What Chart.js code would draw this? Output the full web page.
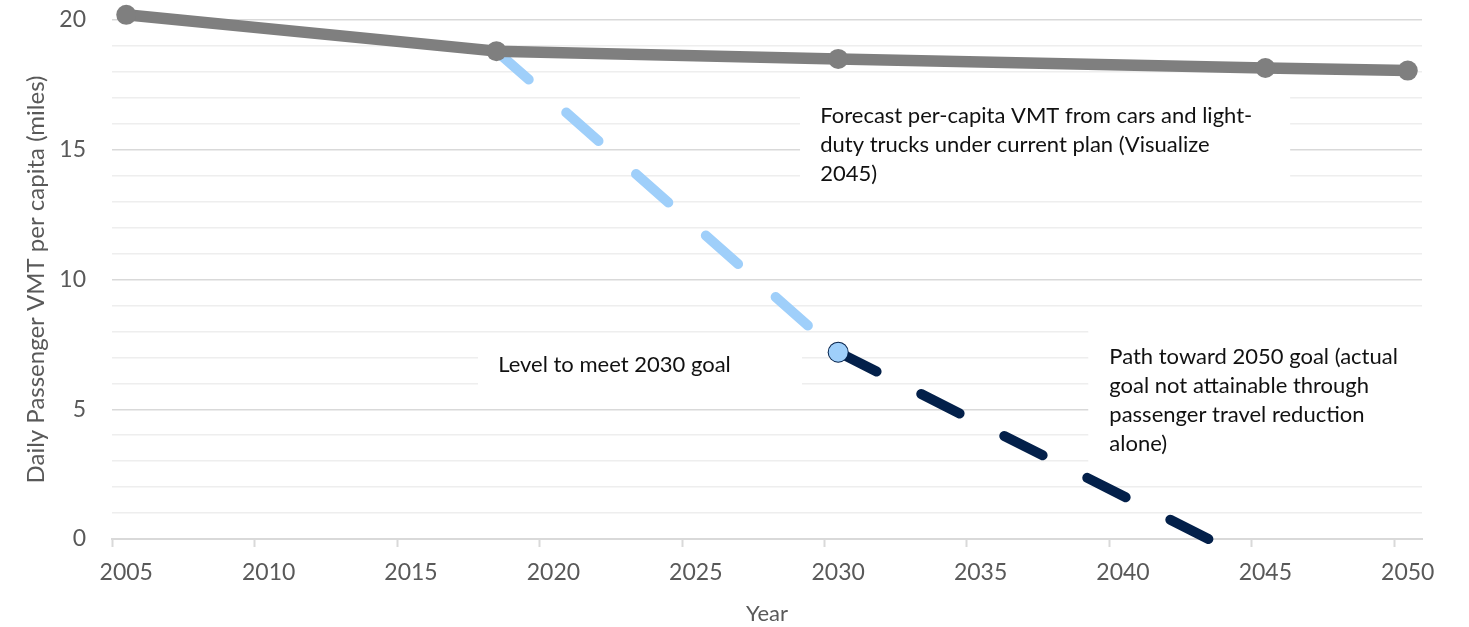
<!DOCTYPE html>
<html>
<head>
<meta charset="utf-8">
<title>Daily passenger VMT per capita</title>
<script src="https://cdn.jsdelivr.net/npm/chart.js@4.4.1/dist/chart.umd.min.js"></script>
<style>
  html, body { margin: 0; padding: 0; background: #ffffff; }
  #wrap { width: 1469px; height: 627px; }
</style>
</head>
<body>
<div id="wrap"><canvas id="vmt" width="1469" height="627"></canvas></div>
<script>
// Forecast per-capita VMT (cars and light-duty trucks, current plan)
const forecastYears = [2005, 2018, 2030, 2045, 2050];
const forecastVMT   = [20.2, 18.8, 18.5, 18.15, 18.05];

// Level needed to meet the 2030 goal
const goal2030Years = [2018, 2030];
const goal2030VMT   = [18.8, 7.2];

// Path toward the 2050 goal
const path2050Years = [2030, 2043];
const path2050VMT   = [7.2, 0];

// Axis ticks
const yearTicks = [2005, 2010, 2015, 2020, 2025, 2030, 2035, 2040, 2045, 2050];
const vmtTicks  = [0, 5, 10, 15, 20];

const FONT = 'Lato, "Open Sans", sans-serif';
const pairs = (xs, ys) => xs.map((x, i) => ({ x: x, y: ys[i] }));

// Callout boxes, placed in data coordinates
const callouts = [
  { x0: 2028.66, x1: 2045.87, y0: 17.49, y1: 13.25, tx: 2029.37, ty: 16.3,
    lines: ['Forecast per-capita VMT from cars and light-',
            'duty trucks under current plan (Visualize',
            '2045)'] },
  { x0: 2017.35, x1: 2028.73, y0: 7.66, y1: 5.54, tx: 2018.06, ty: 6.7,
    lines: ['Level to meet 2030 goal'] },
  { x0: 2038.78, x1: 2051.0, y0: 8.36, y1: 2.65, tx: 2039.52, ty: 7.0,
    lines: ['Path toward 2050 goal (actual',
            'goal not attainable through',
            'passenger travel reduction',
            'alone)'] }
];

const calloutPlugin = {
  id: 'callouts',
  beforeDatasetsDraw(chart) {
    const { ctx, scales: { x, y } } = chart;
    ctx.save();
    callouts.forEach(c => {
      const l = x.getPixelForValue(c.x0), r = x.getPixelForValue(c.x1);
      const t = y.getPixelForValue(c.y0), b = y.getPixelForValue(c.y1);
      ctx.fillStyle = '#ffffff';
      ctx.fillRect(l, t, r - l, b - t);
      ctx.fillStyle = '#111111';
      ctx.font = '22px ' + FONT;
      ctx.textAlign = 'left';
      ctx.textBaseline = 'middle';
      const tx = x.getPixelForValue(c.tx);
      const ty = y.getPixelForValue(c.ty);
      c.lines.forEach((s, i) => ctx.fillText(s, tx, ty + i * 29));
    });
    ctx.restore();
  }
};

// Tick marks sit half a year before each labelled year
const tickMarkPlugin = {
  id: 'tickMarks',
  afterDraw(chart) {
    const { ctx, scales: { x } } = chart;
    ctx.save();
    ctx.strokeStyle = '#d9d9d9';
    ctx.lineWidth = 2;
    yearTicks.forEach(v => {
      const px = Math.round(x.getPixelForValue(v - 0.5)) + 0.5;
      ctx.beginPath();
      ctx.moveTo(px, x.top);
      ctx.lineTo(px, x.top + 8);
      ctx.stroke();
    });
    ctx.restore();
  }
};

new Chart(document.getElementById('vmt'), {
  type: 'line',
  data: {
    datasets: [
      {
        label: 'Forecast per-capita VMT',
        data: pairs(forecastYears, forecastVMT),
        borderColor: '#7f7f7f',
        backgroundColor: '#7f7f7f',
        borderWidth: 11.5,
        borderCapStyle: 'round',
        borderJoinStyle: 'round',
        pointRadius: 10,
        pointHoverRadius: 10,
        pointBorderWidth: 0,
        pointBackgroundColor: '#7f7f7f',
        tension: 0,
        clip: false
      },
      {
        label: 'Level to meet 2030 goal',
        data: pairs(goal2030Years, goal2030VMT),
        borderColor: '#9fcffa',
        borderWidth: 10,
        borderDash: [43, 50],
        borderCapStyle: 'round',
        pointRadius: [0, 9.5],
        pointHoverRadius: [0, 9.5],
        pointBorderWidth: 0,
        pointBackgroundColor: '#9fcffa',
        tension: 0,
        clip: false
      },
      {
        label: 'Path toward 2050 goal',
        data: pairs(path2050Years, path2050VMT),
        borderColor: '#03204a',
        borderWidth: 10,
        borderDash: [43, 50],
        borderCapStyle: 'round',
        pointRadius: [10.5, 0],
        pointHoverRadius: [10.5, 0],
        pointBorderWidth: 0,
        pointBackgroundColor: '#03204a',
        tension: 0,
        clip: false
      }
    ]
  },
  options: {
    responsive: false,
    animation: false,
    devicePixelRatio: 1,
    layout: { autoPadding: false, padding: { top: 20, right: 47, bottom: 0, left: 0 } },
    plugins: {
      legend: { display: false },
      tooltip: { enabled: false }
    },
    scales: {
      x: {
        type: 'linear',
        min: 2004.5,
        max: 2050.5,
        afterBuildTicks: s => { s.ticks = yearTicks.map(v => ({ value: v })); },
        afterFit: s => { s.height = 88; s.paddingLeft = 0; s.paddingRight = 0; },
        grid: { display: true, drawOnChartArea: false, drawTicks: false },
        border: { display: true, color: '#d9d9d9', width: 2 },
        ticks: {
          padding: 20,
          color: '#595959',
          font: { family: FONT, size: 23 },
          maxRotation: 0,
          autoSkip: false,
          callback: v => String(v)
        },
        title: {
          display: true,
          text: 'Year',
          color: '#595959',
          font: { family: FONT, size: 22 },
          padding: { top: 0, bottom: 0 }
        }
      },
      y: {
        min: 0,
        max: 20,
        afterFit: s => { s.width = 112; s.paddingTop = 0; s.paddingBottom = 0; },
        grid: {
          drawTicks: false,
          lineWidth: 1.5,
          color: c => (c.tick && c.tick.value % 5 === 0) ? '#d9d9d9' : '#eeeeee'
        },
        border: { display: false },
        ticks: {
          stepSize: 1,
          padding: 26,
          color: '#595959',
          font: { family: FONT, size: 23 },
          autoSkip: false,
          callback: v => vmtTicks.includes(v) ? String(v) : ''
        },
        title: {
          display: true,
          text: 'Daily Passenger VMT per capita (miles)',
          color: '#595959',
          font: { family: FONT, size: 24 },
          padding: { top: 22, bottom: 0 }
        }
      }
    }
  },
  plugins: [calloutPlugin, tickMarkPlugin]
});
</script>
</body>
</html>
